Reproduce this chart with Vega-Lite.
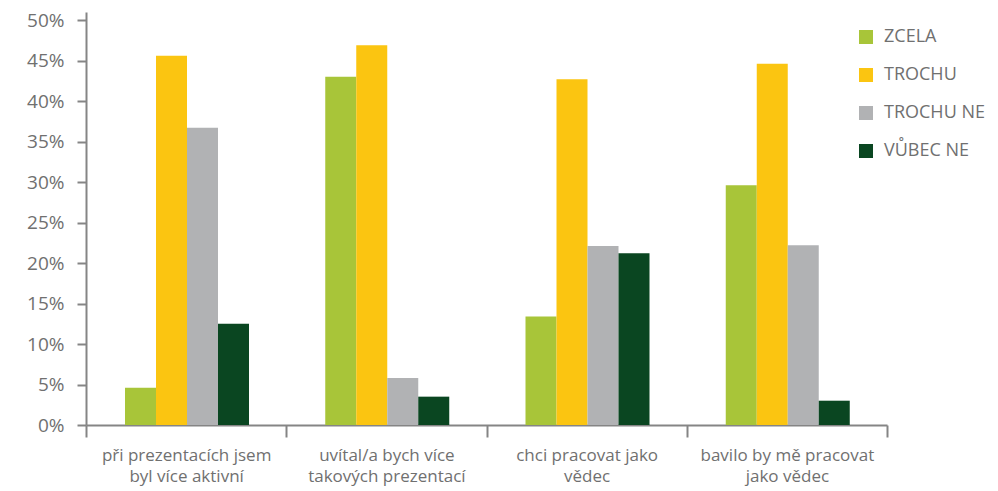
{
  "$schema": "https://vega.github.io/schema/vega-lite/v6.json",
  "width": 801,
  "height": 413,
  "autosize": {"type": "none"},
  "padding": {"left": 86, "top": 12, "right": 111, "bottom": 66},
  "background": "white",
  "config": {
    "view": {"stroke": null},
    "font": "Open Sans"
  },
  "data": {
    "values": [
      {"q": "při prezentacích jsem|byl více aktivní", "cat": "ZCELA", "value": 0.046},
      {"q": "při prezentacích jsem|byl více aktivní", "cat": "TROCHU", "value": 0.456},
      {"q": "při prezentacích jsem|byl více aktivní", "cat": "TROCHU NE", "value": 0.367},
      {"q": "při prezentacích jsem|byl více aktivní", "cat": "VŮBEC NE", "value": 0.125},
      {"q": "uvítal/a bych více|takových prezentací", "cat": "ZCELA", "value": 0.43},
      {"q": "uvítal/a bych více|takových prezentací", "cat": "TROCHU", "value": 0.469},
      {"q": "uvítal/a bych více|takových prezentací", "cat": "TROCHU NE", "value": 0.058},
      {"q": "uvítal/a bych více|takových prezentací", "cat": "VŮBEC NE", "value": 0.035},
      {"q": "chci pracovat jako|vědec", "cat": "ZCELA", "value": 0.134},
      {"q": "chci pracovat jako|vědec", "cat": "TROCHU", "value": 0.427},
      {"q": "chci pracovat jako|vědec", "cat": "TROCHU NE", "value": 0.221},
      {"q": "chci pracovat jako|vědec", "cat": "VŮBEC NE", "value": 0.212},
      {"q": "bavilo by mě pracovat|jako vědec", "cat": "ZCELA", "value": 0.296},
      {"q": "bavilo by mě pracovat|jako vědec", "cat": "TROCHU", "value": 0.446},
      {"q": "bavilo by mě pracovat|jako vědec", "cat": "TROCHU NE", "value": 0.222},
      {"q": "bavilo by mě pracovat|jako vědec", "cat": "VŮBEC NE", "value": 0.030}
    ]
  },
  "mark": {"type": "bar"},
  "encoding": {
    "x": {
      "field": "q",
      "type": "nominal",
      "sort": null,
      "scale": {"paddingInner": 0, "paddingOuter": 0},
      "axis": {
        "title": null,
        "labelAngle": 0,
        "labelExpr": "datum.value ? split(datum.value, '|') : ''",
        "labelFontSize": 17,
        "labelColor": "#707070",
        "labelLineHeight": 21,
        "labelPadding": 10,
        "tickBand": "extent",
        "tickSize": 12,
        "tickWidth": 2,
        "tickColor": "#858585",
        "domainColor": "#858585",
        "domainWidth": 2,
        "labelBound": false,
        "labelOverlap": false
      }
    },
    "xOffset": {
      "field": "cat",
      "type": "nominal",
      "sort": ["ZCELA", "TROCHU", "TROCHU NE", "VŮBEC NE"],
      "scale": {"paddingInner": 0, "paddingOuter": 0, "range": [39, 163]}
    },
    "y": {
      "field": "value",
      "type": "quantitative",
      "scale": {"domain": [0, 0.51], "nice": false},
      "axis": {
        "title": null,
        "format": ".0%",
        "values": [0, 0.05, 0.1, 0.15, 0.2, 0.25, 0.3, 0.35, 0.4, 0.45, 0.5],
        "grid": false,
        "labelFontSize": 19,
        "labelColor": "#707070",
        "labelPadding": 13,
        "tickSize": 9,
        "tickWidth": 2,
        "tickColor": "#858585",
        "domainColor": "#858585",
        "domainWidth": 2
      }
    },
    "color": {
      "field": "cat",
      "type": "nominal",
      "scale": {
        "domain": ["ZCELA", "TROCHU", "TROCHU NE", "VŮBEC NE"],
        "range": ["#A8C539", "#FBC511", "#B1B2B4", "#0A4621"]
      },
      "legend": {
        "title": null,
        "orient": "none",
        "legendX": 771,
        "legendY": 16,
        "symbolType": "square",
        "symbolSize": 196,
        "symbolStrokeWidth": 0,
        "labelFontSize": 18,
        "labelColor": "#707070",
        "labelOffset": 9,
        "rowPadding": 20,
        "padding": 0
      }
    }
  }
}
